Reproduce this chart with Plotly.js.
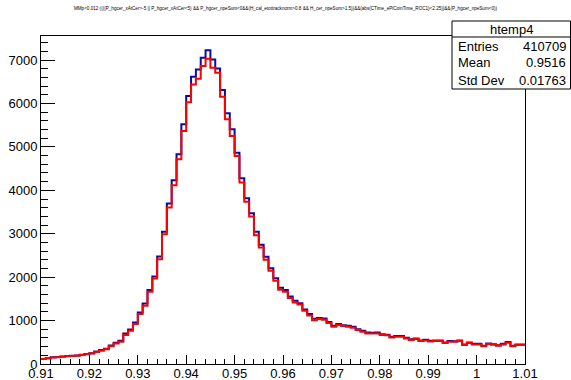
<!DOCTYPE html>
<html>
<head>
<meta charset="utf-8">
<script src="https://cdn.plot.ly/plotly-3.0.1.min.js"></script>
<style>html,body{margin:0;padding:0;background:#fff;}#plot{width:571px;height:380px;}</style>
</head>
<body>
<div id="plot"></div>
<script>
// Histogram binning: 100 bins from 0.91 to 1.01
const binLow = 0.91;
const binWidth = 0.001;

// Blue histogram (htemp4) bin contents
const blueCounts = [
  118, 135, 155, 160, 172, 182, 190, 198, 215, 230,
  250, 288, 320, 350, 425, 490, 535, 700, 795, 958,
  1188, 1395, 1702, 2016, 2476, 3044, 3695, 4232, 4830, 5520,
  6172, 6616, 6785, 7053, 7229, 7015, 6808, 6310, 5773, 5405,
  4868, 4278, 3818, 3473, 3044, 2745, 2469, 2208, 1978, 1756,
  1702, 1557, 1457, 1400, 1255, 1150, 1040, 1062, 1048, 968,
  882, 921, 893, 880, 858, 800, 764, 724, 722, 724,
  684, 675, 630, 645, 644, 606, 570, 590, 544, 558,
  535, 543, 542, 496, 527, 525, 543, 450, 496, 464,
  465, 418, 472, 457, 434, 464, 504, 418, 449, 449
];

// Red histogram bin contents
const redCounts = [
  115, 130, 150, 155, 168, 177, 185, 192, 208, 223,
  240, 277, 308, 338, 408, 470, 510, 670, 765, 920,
  1150, 1342, 1663, 1970, 2415, 2990, 3603, 4117, 4715, 5367,
  6030, 6440, 6570, 6862, 7031, 6823, 6708, 6156, 5635, 5252,
  4792, 4178, 3740, 3396, 2967, 2683, 2400, 2147, 1917, 1710,
  1663, 1518, 1418, 1372, 1227, 1120, 1010, 1035, 1020, 943,
  859, 897, 874, 859, 836, 782, 744, 705, 705, 705,
  667, 660, 613, 629, 629, 590, 555, 575, 530, 544,
  521, 529, 529, 483, 513, 513, 529, 437, 483, 452,
  452, 406, 460, 445, 422, 452, 491, 406, 437, 437
];

const xTickVals = [0.91, 0.92, 0.93, 0.94, 0.95, 0.96, 0.97, 0.98, 0.99, 1.00, 1.01];
const xTickText = ["0.91", "0.92", "0.93", "0.94", "0.95", "0.96", "0.97", "0.98", "0.99", "1", "1.01"];
const yTickVals = [0, 1000, 2000, 3000, 4000, 5000, 6000, 7000];
const yTickText = ["0", "1000", "2000", "3000", "4000", "5000", "6000", "7000"];

const statsName = "htemp4";
const statsLabels = ["Entries", "Mean", "Std Dev"];
const statsValues = ["410709", "0.9516", "0.01763"];

const titleText = "MMp&lt;0.012 ((((P_hgcer_xAtCer&gt;-5 || P_hgcer_xAtCer&lt;5) &amp;&amp; P_hgcer_npeSum&lt;0&amp;&amp;(H_cal_etottracknorm&gt;0.8 &amp;&amp; H_cer_npeSum&gt;1.5))&amp;&amp;(abs(CTime_ePiCoinTime_ROC1)&lt;2.25))&amp;&amp;(P_hgcer_npeSum&lt;0))";

function stepTrace(counts, color) {
  const xs = [], ys = [];
  for (let i = 0; i < counts.length; i++) {
    xs.push(binLow + i * binWidth);
    ys.push(counts[i]);
  }
  xs.push(binLow + counts.length * binWidth);
  ys.push(counts[counts.length - 1]);
  return {
    type: 'scatter', mode: 'lines', x: xs, y: ys,
    line: {shape: 'hv', color: color, width: 2},
    hoverinfo: 'skip', showlegend: false
  };
}

const data = [stepTrace(blueCounts, '#0c0c9c'), stepTrace(redCounts, '#ff0000')];

// Plot area pixel geometry helpers for paper coords
const L = 41, R = 525, T = 36, B = 364;
const px = v => (v - L) / (R - L);
const py = v => (B - v) / (B - T);

const font = {family: 'Liberation Sans, Arial, sans-serif', color: '#000'};

const annotations = [];
annotations.push({xref: 'paper', yref: 'paper', x: px(511), y: py(29), text: statsName,
  showarrow: false, xanchor: 'center', yanchor: 'middle', font: Object.assign({size: 13}, font)});
const rowsY = [46, 63, 80];
for (let i = 0; i < statsLabels.length; i++) {
  annotations.push({xref: 'paper', yref: 'paper', x: px(456), y: py(rowsY[i]), text: statsLabels[i],
    showarrow: false, xanchor: 'left', yanchor: 'middle', font: Object.assign({size: 13}, font)});
  annotations.push({xref: 'paper', yref: 'paper', x: px(568), y: py(rowsY[i]), text: statsValues[i],
    showarrow: false, xanchor: 'right', yanchor: 'middle', font: Object.assign({size: 13}, font)});
}

const shapes = [
  {type: 'rect', xref: 'paper', yref: 'paper', x0: px(452), x1: px(570.5), y0: py(89), y1: py(21),
   line: {color: '#000', width: 1}, fillcolor: '#fff', layer: 'above'},
  {type: 'line', xref: 'paper', yref: 'paper', x0: px(452), x1: px(570.5), y0: py(37), y1: py(37),
   line: {color: '#000', width: 1}, layer: 'above'}
];

const layout = {
  width: 571, height: 380,
  margin: {l: L, r: 571 - R, t: T, b: 380 - B, pad: 0},
  paper_bgcolor: '#fff', plot_bgcolor: '#fff',
  title: {text: titleText, font: Object.assign({size: 4.6}, font),
          x: 0.5, xref: 'container', xanchor: 'center', y: 1 - 8 / 380, yref: 'container', yanchor: 'middle'},
  xaxis: {
    range: [0.91, 1.01], tickmode: 'array', tickvals: xTickVals, ticktext: xTickText,
    ticks: 'inside', ticklen: 9, tickwidth: 1, tickcolor: '#000',
    minor: {ticks: 'inside', ticklen: 5, tickwidth: 1, tickcolor: '#000', dtick: 0.002, tick0: 0.91, showgrid: false},
    showline: true, linecolor: '#000', linewidth: 1, mirror: true,
    showgrid: false, zeroline: false, tickfont: Object.assign({size: 13}, font), ticklabelstandoff: -3
  },
  yaxis: {
    range: [0, 7555], tickmode: 'array', tickvals: yTickVals, ticktext: yTickText,
    ticks: 'inside', ticklen: 14, tickwidth: 1, tickcolor: '#000',
    minor: {ticks: 'inside', ticklen: 7, tickwidth: 1, tickcolor: '#000', dtick: 200, tick0: 0, showgrid: false},
    showline: true, linecolor: '#000', linewidth: 1, mirror: true,
    showgrid: false, zeroline: false, tickfont: Object.assign({size: 13}, font)
  },
  annotations: annotations,
  shapes: shapes
};

Plotly.newPlot('plot', data, layout, {staticPlot: true, displayModeBar: false});
</script>
</body>
</html>
